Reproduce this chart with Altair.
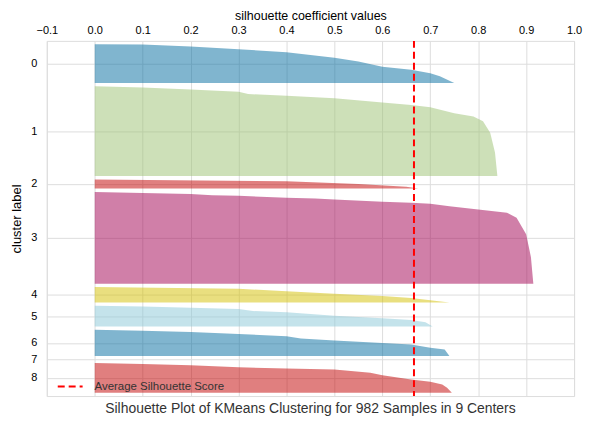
import altair as alt
import pandas as pd

# ---- data ----
clusters = [0, 1, 2, 3, 4, 5, 6, 7, 8]
sizes = [118, 274, 28, 280, 47, 63, 80, 1, 91]
n_samples = 982
avg_score = 0.666
x_ticks = [-0.1, 0.0, 0.1, 0.2, 0.3, 0.4, 0.5, 0.6, 0.7, 0.8, 0.9, 1.0]

# silhouette profile per cluster: position within the band (0..1) and value
frac_0 = [0, .01, .06, .13, .21, .35, .45, .58, .66, .75, .83, 1.0]
vals_0 = [0, .10, .20, .30, .40, .50, .55, .60, .66, .70, .72, .75]
frac_1 = [0, .015, .036, .062, .088, .106, .135, .182, .208, .234, .30, .336, .39, .518, .737, 1.0]
vals_1 = [0, .10, .20, .30, .32, .40, .50, .60, .66, .70, .75, .79, .81, .825, .835, .84]
frac_2 = [0, .2, .5, .8, 1.0]
vals_2 = [0, .40, .55, .65, .675]
frac_3 = [0, .011, .022, .036, .043, .065, .072, .083, .108, .119, .129, .155, .191, .227, .281, .46, .71, 1.0]
vals_3 = [0, .10, .20, .245, .30, .40, .46, .50, .60, .66, .70, .74, .80, .86, .88, .90, .91, .915]
frac_4 = [0, .106, .277, .426, .574, .702, .851, 1.0]
vals_4 = [0, .30, .40, .50, .60, .66, .70, .74]
frac_5 = [0, .032, .095, .159, .254, .317, .476, .603, .683, .794, 1.0]
vals_5 = [0, .10, .20, .30, .33, .40, .50, .60, .66, .69, .705]
frac_6 = [0, .038, .088, .163, .25, .338, .413, .50, .563, .688, .75, 1.0]
vals_6 = [0, .10, .20, .30, .40, .43, .50, .60, .66, .70, .73, .74]
frac_7 = [0, 1.0]
vals_7 = [0, 0]
frac_8 = [0, .033, .078, .144, .189, .222, .333, .411, .556, .633, .722, .833, 1.0]
vals_8 = [0, .10, .20, .30, .40, .50, .575, .60, .66, .70, .725, .735, .745]

fracs = [frac_0, frac_1, frac_2, frac_3, frac_4, frac_5, frac_6, frac_7, frac_8]
vals = [vals_0, vals_1, vals_2, vals_3, vals_4, vals_5, vals_6, vals_7, vals_8]

colors = ["#016b9f", "#9bc171", "#c10000", "#a10051", "#d3bf00", "#89c7d7",
          "#016b9f", "#9bc171", "#c10000"]

# ---- build table ----
rows = []
centers = []
y_lower = 10
for c, s, fr, vv in zip(clusters, sizes, fracs, vals):
    for f, v in zip(fr, vv):
        rows.append({"cluster": c, "pos": y_lower + f * s, "value": v})
    centers.append(y_lower + s / 2)
    y_lower += s + 10
df = pd.DataFrame(rows).sort_values(["cluster", "pos"])
y_max = n_samples + (len(clusters) + 1) * 10

W, H = 530, 357
FONT = "Liberation Sans"
TXT = "#333333"

x_enc = alt.X(
    "value:Q", stack=None,
    scale=alt.Scale(domain=[-0.1, 1.0], nice=False, zero=False),
    axis=alt.Axis(orient="top", values=x_ticks, format=".1f",
                  title="silhouette coefficient values",
                  titleX=W / 2, titleY=-25, titleBaseline="middle",
                  titleFontSize=12.5, titleFontWeight="normal",
                  labelFontSize=11, labelPadding=5, ticks=False, tickSize=0,
                  domain=False, labelFlush=False),
)
y_enc = alt.Y(
    "pos:Q",
    scale=alt.Scale(domain=[0, y_max], reverse=True, nice=False, zero=False),
    axis=alt.Axis(values=centers,
                  labelExpr=f"indexof({centers}, datum.value)",
                  title="cluster label", titleX=-30, titleY=H / 2,
                  titleAngle=-90, titleAlign="center", titleBaseline="middle",
                  titleFontSize=13, titleFontWeight="normal",
                  labelFontSize=11, labelPadding=10, ticks=False, tickSize=0,
                  domain=False),
)

areas = alt.Chart(df).mark_area(orient="horizontal", opacity=0.5).encode(
    x=x_enc,
    x2=alt.datum(0),
    y=y_enc,
    color=alt.Color("cluster:N", scale=alt.Scale(domain=clusters, range=colors), legend=None),
    detail="cluster:N",
)

avg_df = pd.DataFrame({"avg": [avg_score], "label": ["Average Silhouette Score"]})
rule = alt.Chart(avg_df).mark_rule(color="#ff0000", strokeWidth=2).encode(
    x="avg:Q",
    strokeDash=alt.StrokeDash(
        "label:N", scale=alt.Scale(range=[[7, 4]]),
        legend=alt.Legend(title=None, orient="none", legendX=10, legendY=334,
                          symbolType="stroke", symbolStrokeColor="#ff0000",
                          symbolStrokeWidth=2, symbolSize=625,
                          labelFontSize=11.5, labelOffset=11, padding=0,
                          labelFont=FONT, labelColor=TXT),
    ),
)

chart = alt.layer(areas, rule).properties(
    width=W, height=H,
    padding={"left": 39, "top": 32, "right": 15, "bottom": 20},
    autosize=alt.AutoSizeParams(type="none"),
    title=alt.TitleParams(
        "Silhouette Plot of KMeans Clustering for 982 Samples in 9 Centers",
        orient="bottom", anchor="middle", offset=5,
        fontSize=14, font=FONT, fontWeight="normal", color=TXT),
).configure_view(
    stroke="#cccccc", strokeWidth=1.25
).configure_axis(
    gridColor="#d2d2d2", gridWidth=1, labelFont=FONT, titleFont=FONT,
    labelColor=TXT, titleColor=TXT
).configure(background="white")

chart.save("out.html", embed_options={"renderer": "svg", "actions": False})
